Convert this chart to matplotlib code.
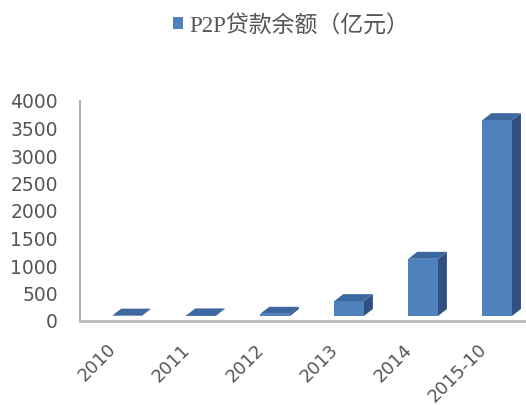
import numpy as np
import matplotlib
matplotlib.use('Agg')
import matplotlib.pyplot as plt
from matplotlib.patches import Polygon
from matplotlib.transforms import ScaledTranslation

# Данные
years = ['2010', '2011', '2012', '2013', '2014', '2015-10']
loans = [6, 10, 40, 270, 1040, 3560]
series_name = 'P2P贷款余额（亿元）'
yticks = [0, 500, 1000, 1500, 2000, 2500, 3000, 3500, 4000]

front = '#4F81BD'
top_c = '#3D689F'
side_c = '#2E5182'
text_c = '#555555'

fig = plt.figure(figsize=(5.26, 4.05), dpi=100)
ax = fig.add_axes([80 / 526, 84 / 405, 446 / 526, 220 / 405])

x = np.arange(len(years))
ax.set_xlim(-0.635, 5.39)
ax.set_ylim(0, 4000)

# столбцы чуть выше линии пола (эффект 3D)
lift = ScaledTranslation(0, 5 / 100, fig.dpi_scale_trans)
tr = ax.transData + lift

w = 0.4
bars = ax.bar(x, loans, width=w, color=front, transform=tr, label=series_name, zorder=3)

# глубина коробки в единицах данных (9px вправо, 7px вверх)
inv = ax.transData.inverted()
p0 = ax.transData.transform((0, 0))
dx, dy = inv.transform(p0 + np.array([9, 7]))

for xi, v in zip(x, loans):
    l, r = xi - w / 2, xi + w / 2
    top = Polygon([(l, v), (r, v), (r + dx, v + dy), (l + dx, v + dy)],
                  closed=True, facecolor=top_c, edgecolor='none', transform=tr, zorder=3)
    side = Polygon([(r, 0), (r + dx, dy), (r + dx, v + dy), (r, v)],
                   closed=True, facecolor=side_c, edgecolor='none', transform=tr, zorder=2)
    ax.add_patch(top)
    ax.add_patch(side)

for s in ['top', 'right']:
    ax.spines[s].set_visible(False)
ax.spines['bottom'].set_color('#BFBFBF')
ax.spines['bottom'].set_linewidth(2.2)
ax.spines['left'].set_color('#B0B0B0')
ax.spines['left'].set_linewidth(1.5)

ax.set_yticks(yticks)
ax.set_yticklabels([str(t) for t in yticks], fontsize=13.5, color=text_c, family='DejaVu Sans')
ax.tick_params(axis='y', length=0, pad=16)

ax.set_xticks(x)
ax.set_xticklabels(years, fontsize=13, color=text_c, family='DejaVu Sans',
                   rotation=45, ha='right', va='top', rotation_mode='anchor')
ax.tick_params(axis='x', length=0, pad=14)
shift = ScaledTranslation(-20 / 100, 0, fig.dpi_scale_trans)
for lab in ax.get_xticklabels():
    lab.set_transform(lab.get_transform() + shift)

leg = fig.legend(handles=[bars], labels=[series_name], loc='center',
                 bbox_to_anchor=(0.553, 0.937), frameon=False,
                 prop={'family': ['Liberation Serif', 'Noto Sans CJK SC'], 'size': 16.5},
                 handlelength=0.45, handleheight=0.45, handletextpad=0.25)
for t in leg.get_texts():
    t.set_color(text_c)

fig.savefig('out.png', dpi=100)
